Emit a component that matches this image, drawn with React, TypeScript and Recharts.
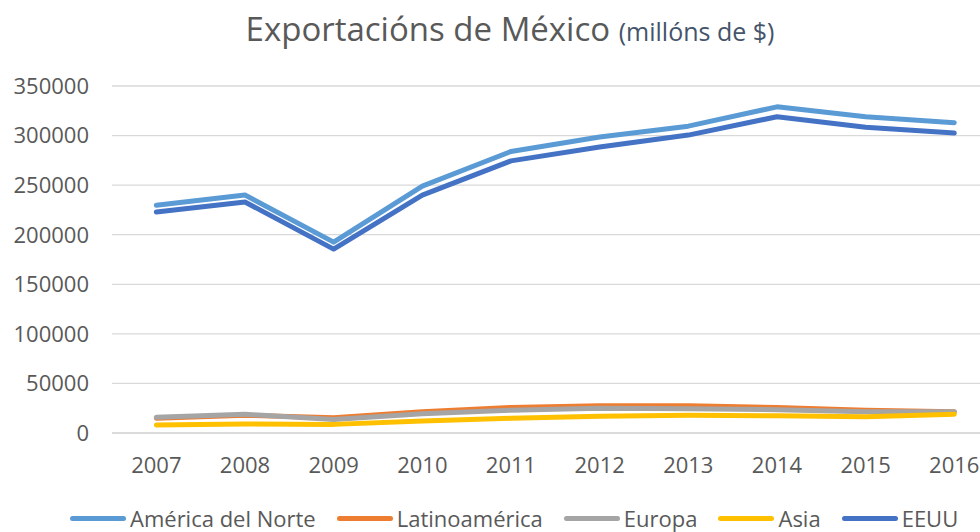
import { LineChart, Line, XAxis, YAxis, CartesianGrid } from 'recharts';

const years = [2007, 2008, 2009, 2010, 2011, 2012, 2013, 2014, 2015, 2016];
const norteamerica = [229800, 240000, 192500, 249000, 284000, 298500, 309500, 329000, 319000, 313000];
const latinoamerica = [15000, 18000, 15500, 21500, 25800, 27500, 27500, 25800, 23000, 21500];
const europa = [15800, 18900, 13500, 19500, 23000, 25000, 24500, 23500, 21500, 21500];
const asia = [8000, 9000, 8700, 12200, 14800, 17000, 18000, 17300, 16500, 19000];
const eeuu = [223000, 233000, 185500, 240000, 274500, 288500, 300500, 319000, 308500, 302500];
const yTicks = [0, 50000, 100000, 150000, 200000, 250000, 300000, 350000];

const series = [
    { key: 'norte', name: 'América del Norte', color: '#5B9BD5', values: norteamerica },
    { key: 'latam', name: 'Latinoamérica', color: '#ED7D31', values: latinoamerica },
    { key: 'europa', name: 'Europa', color: '#A5A5A5', values: europa },
    { key: 'asia', name: 'Asia', color: '#FFC000', values: asia },
    { key: 'eeuu', name: 'EEUU', color: '#4472C4', values: eeuu },
];

const data = years.map((year, i) => {
    const row: any = { year };
    series.forEach(s => { row[s.key] = s.values[i]; });
    return row;
});

const FONT = '"Open Sans", sans-serif';

export default function App() {
    return (
        <div style={{ position: 'absolute', left: 0, top: 0, width: 980, height: 532, background: '#fff', fontFamily: FONT, overflow: 'hidden' }}>
            {/* title */}
            <div style={{ position: 'absolute', top: 6, left: 0, width: 1020, textAlign: 'center', whiteSpace: 'nowrap', color: '#595959', lineHeight: '46px' }}>
                <span style={{ fontSize: 33 }}>Exportacións de México </span>
                <span style={{ fontSize: 25, color: '#44546A' }}>(millóns de $)</span>
            </div>

            <LineChart width={980} height={532} data={data} margin={{ top: 86, right: 0, left: 0, bottom: 59 }}>
                <CartesianGrid vertical={false} stroke="#D9D9D9" strokeWidth={1.3} />
                <XAxis
                    dataKey="year"
                    type="number"
                    domain={[2006.5, 2016.29]}
                    allowDataOverflow
                    ticks={years}
                    height={40}
                    tickLine={false}
                    axisLine={{ stroke: '#D9D9D9', strokeWidth: 1.3 }}
                    tickMargin={18}
                    tick={{ fontSize: 22, fill: '#595959', fontFamily: FONT }}
                />
                <YAxis
                    domain={[0, 350000]}
                    ticks={yTicks}
                    width={112}
                    axisLine={false}
                    tickLine={false}
                    tickMargin={17}
                    tick={{ fontSize: 22, fill: '#595959', fontFamily: FONT }}
                />
                {series.map(s => (
                    <Line
                        key={s.key}
                        dataKey={s.key}
                        name={s.name}
                        type="linear"
                        stroke={s.color}
                        strokeWidth={5}
                        strokeLinecap="round"
                        strokeLinejoin="round"
                        dot={false}
                        isAnimationActive={false}
                    />
                ))}
            </LineChart>

            {/* legend */}
            <div style={{ position: 'absolute', top: 506, left: 70, display: 'flex', alignItems: 'center', whiteSpace: 'nowrap', color: '#595959', fontSize: 22, lineHeight: '25px' }}>
                {series.map(s => (
                    <div key={s.key} style={{ display: 'flex', alignItems: 'center', marginRight: 21 }}>
                        <div style={{ width: 56, height: 5, borderRadius: 3, background: s.color, marginRight: 4 }} />
                        <span>{s.name}</span>
                    </div>
                ))}
            </div>
        </div>
    );
}
